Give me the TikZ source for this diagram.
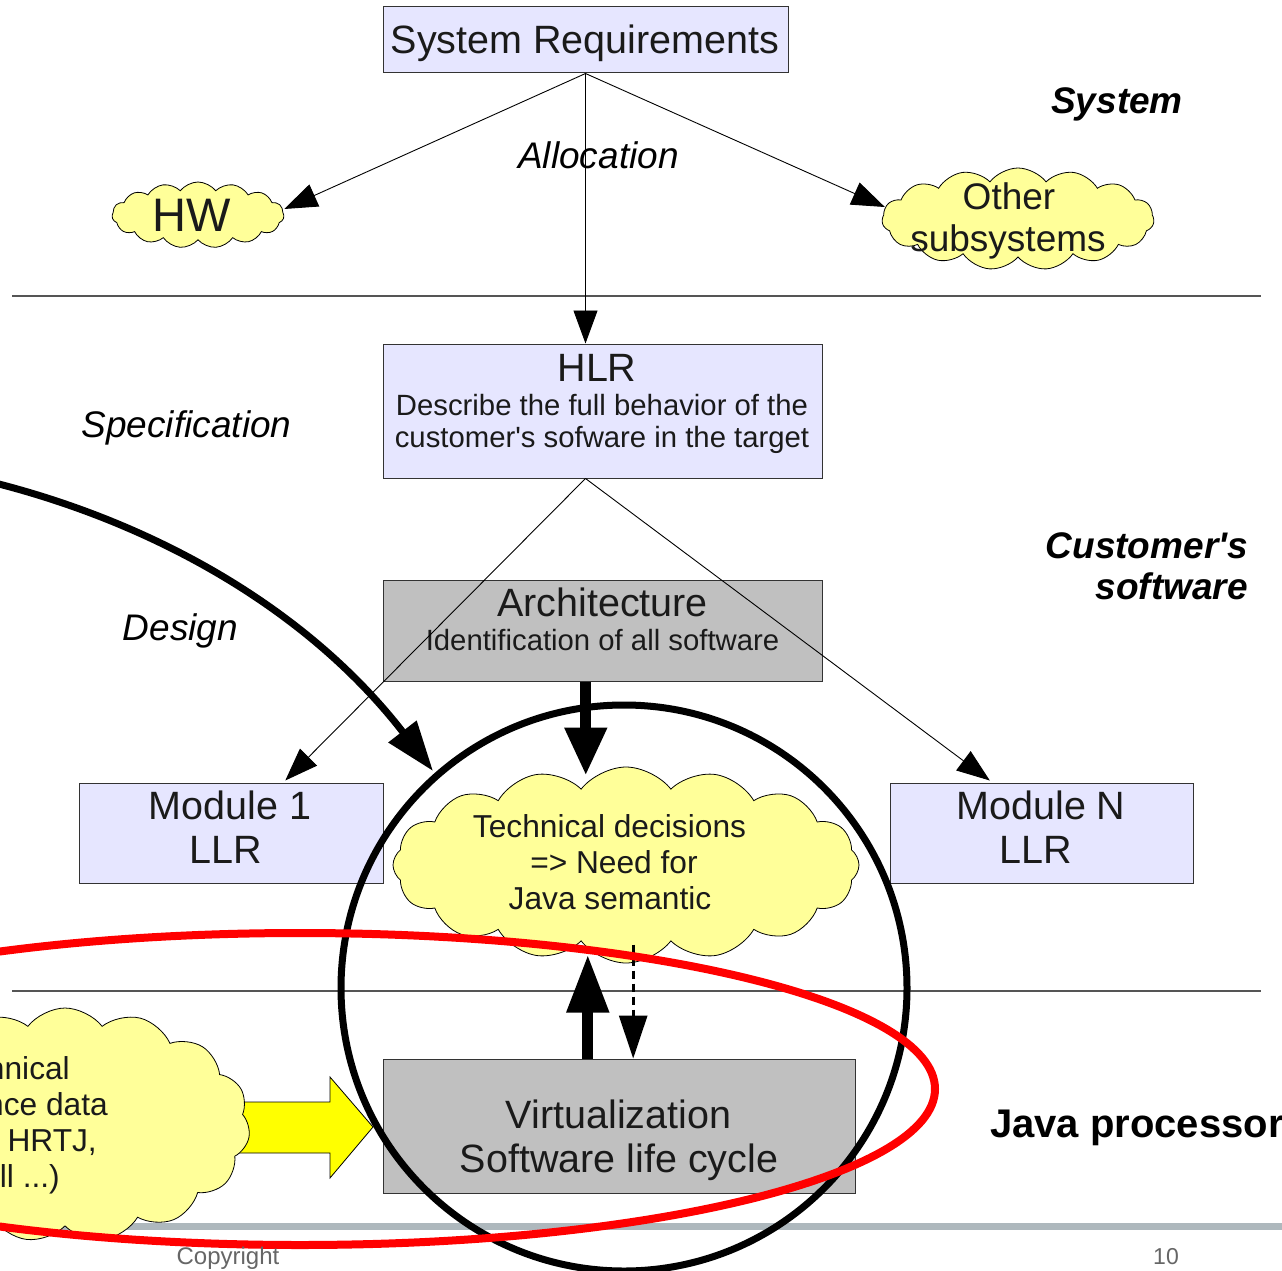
\documentclass[tikz,border=0pt]{standalone}
\usepackage{fontspec}
\setmainfont{Liberation Sans}
\usetikzlibrary{arrows.meta,shapes.symbols,calc}

\definecolor{lav}{HTML}{E6E6FF}
\definecolor{boxgray}{HTML}{C0C0C0}
\definecolor{cloudy}{HTML}{FFFF99}
\definecolor{arrowyellow}{HTML}{FFFF00}
\definecolor{ink}{HTML}{1A1A1A}
\definecolor{rule}{HTML}{555555}
\definecolor{footbar}{HTML}{AEB8BD}
\definecolor{foottext}{HTML}{666666}

\newcommand\fsz[1]{\fontsize{#1}{#1}\selectfont}

\begin{document}
\begin{tikzpicture}[x=1pt,y=-1pt,
  box/.style={draw=black!80, line width=1pt, inner sep=0pt},
  lavbox/.style={box, fill=lav},
  graybox/.style={box, fill=boxgray},
  puff/.style={cloud, draw=black, fill=cloudy, line width=0.8pt,
    cloud ignores aspect, cloud puff arc=105, inner sep=0pt},
  txt/.style={inner sep=0pt, text=ink, anchor=base},
  bigtxt/.style={txt, font=\fsz{39.5}},
  midtxt/.style={txt, font=\fsz{29.3}},
  cloudtxt/.style={txt, font=\fsz{31.7}},
  lbl/.style={txt, text=black, font=\fsz{37}\itshape},
  level/.style={txt, text=black, font=\fsz{37}\bfseries\itshape},
  thin/.style={draw=black, line width=0.9pt,
    -{Triangle[length=33pt,width=24pt]}},
  flow/.style={draw=black, line width=11pt,
    -{Triangle[length=48pt,width=40pt]}},
  sep/.style={draw=rule, line width=1.2pt}
]
\useasboundingbox (0,0) rectangle (1282,1271);
\clip (0,0) rectangle (1282,1271);
\fill[white] (0,0) rectangle (1282,1271);

% level separators and footer bar
\path[sep] (12,296) -- (1261,296);
\path[sep] (12,991) -- (1261,991);
\fill[footbar] (0,1223) rectangle (1282,1230);

% requirement boxes
\node[lavbox, minimum width=405pt, minimum height=66pt] (sysreq) at (585.5,40) {};
\node[lavbox, minimum width=439pt, minimum height=134pt] (hlr) at (602.5,411) {};
\node[graybox, minimum width=439pt, minimum height=101pt] (arch) at (602.5,630.5) {};
\node[lavbox, minimum width=304pt, minimum height=100pt] (mod1) at (231,833) {};
\node[lavbox, minimum width=303pt, minimum height=100pt] (modn) at (1041.5,833) {};
\node[graybox, minimum width=472pt, minimum height=134pt] (virt) at (619,1126) {};

\node[bigtxt] (sysreqT) at (585,54) {System Requirements};
\node[bigtxt] (hlrT) at (597,381) {HLR};
\node[midtxt] (hlrA) at (602,415.5) {Describe the full behavior of the};
\node[midtxt] (hlrB) at (602,447) {customer\textquotesingle s sofware in the target};
\node[bigtxt] (archT) at (602.5,616) {Architecture};
\node[midtxt] (archA) at (602.5,650.5) {Identification of all software};
\node[bigtxt] (mod1A) at (230,819) {Module 1};
\node[bigtxt] (mod1B) at (225.5,863) {LLR};
\node[bigtxt] (modnA) at (1041,819) {Module N};
\node[bigtxt] (modnB) at (1035.5,863) {LLR};

% clouds
\node[puff, cloud puffs=15, minimum width=172pt, minimum height=66pt] (hw) at (198,215) {};
\node[txt, font=\fsz{47}] (hwT) at (192,231) {HW};
\node[puff, cloud puffs=15, minimum width=272pt, minimum height=102pt] (other) at (1018,219) {};
\node[txt, font=\fsz{37}] (otherA) at (1009,209) {Other};
\node[txt, font=\fsz{37}] (otherB) at (1008,251) {subsystems};

% allocation connectors
\coordinate (allocTop) at (sysreq.south);
\coordinate (hwTip) at ($(hw.east)+(0,-6)$);
\coordinate (otherTip) at ($(other.west)+(3,-12)$);
\coordinate (hlrIn) at (allocTop |- hlr.north);
\draw[thin] (allocTop) -- (hwTip);
\draw[thin] (allocTop) -- (otherTip);
\draw[thin] (allocTop) -- (hlrIn);

% design connectors
\coordinate (hlrOut) at (allocTop |- hlr.south);
\coordinate (m1Tip) at ($(mod1.north west)!0.678!(mod1.north east)+(0,-2)$);
\coordinate (mnTip) at ($(modn.north west)!0.33!(modn.north east)+(0,-2)$);
\draw[thin] (hlrOut) -- (m1Tip);
\draw[thin] (hlrOut) -- (mnTip);

% labels
\node[lbl] (allocL) at (598.5,168) {Allocation};
\node[lbl] (specL) at (186.5,437) {Specification};
\node[lbl] (designL) at (180.5,640) {Design};
\node[level] (sysL) at (1117,114) {System};
\node[level, anchor=base east] (custA) at (1248,558) {Customer\textquotesingle s};
\node[level, anchor=base east] (custB) at (1248,599) {software};
\node[txt, text=black, font=\fsz{40}\bfseries, anchor=base west] (javaL) at (990,1137) {Java processor};

% technical decisions cloud
\node[puff, cloud puffs=16, minimum width=466pt, minimum height=196pt] (tech) at (626,865) {};
\node[cloudtxt] (techA) at (609.5,837) {Technical decisions};
\node[cloudtxt] (techB) at (614,873) {=> Need for};
\node[cloudtxt] (techC) at (610,909) {Java semantic};

% yellow block arrow and left cloud
\fill[arrowyellow, draw=black, line width=0.8pt]
  (200,1102) -- (330,1102) -- (330,1077) -- (373,1127) -- (330,1178)
  -- (330,1153) -- (200,1153) -- cycle;
\node[puff, cloud puffs=15, minimum width=370pt, minimum height=234pt] (left) at (65,1125) {};
\node[cloudtxt, anchor=base east] (leftA) at (70,1079) {nnical};
\node[cloudtxt, anchor=base east] (leftB) at (108,1115) {nce data};
\node[cloudtxt, anchor=base east] (leftC) at (97,1151) {HRTJ,};
\node[cloudtxt, anchor=base east] (leftD) at (60,1187) {ll ...)};

\node[bigtxt] (virtA) at (618.5,1128) {Virtualization};
\node[bigtxt] (virtB) at (619,1172) {Software life cycle};

% flows between architecture, decisions and virtualization
\coordinate (archOut) at ($(arch.south west)!0.462!(arch.south east)$);
\coordinate (techIn) at ($(archOut)+(0,94)$);
\draw[flow] (archOut) -- (techIn);
\coordinate (virtUp) at ($(virt.north west)!0.434!(virt.north east)$);
\coordinate (techOut) at ($(virtUp)+(0,-104)$);
\draw[flow, -{Triangle[length=58pt,width=40pt]}] (virtUp) -- (techOut);
\coordinate (virtIn) at ($(virt.north west)!0.53!(virt.north east)$);
\coordinate (techDown) at ($(virtIn)+(0,-114)$);
\draw[line width=3pt, dash pattern=on 8pt off 5pt,
  -{Triangle[length=43pt,width=28pt]}] (techDown) -- (virtIn);

% highlight circle and ellipse
\coordinate (focus) at (624,988);
\draw[line width=7pt] (focus) circle[radius=283pt];
\coordinate (scopeC) at (300,1089);
\draw[red, line width=8pt] (scopeC) ellipse[x radius=635pt, y radius=156pt];

% incoming curved arrow
\coordinate (curveStart) at (-5,483);
\coordinate (curveTip) at (433,771);
\draw[line width=7pt, -{Triangle[length=50pt,width=34pt]}]
  (curveStart) .. controls (160,525) and (310,612) .. (curveTip);

% footer
\node[txt, text=foottext, font=\fsz{24}] (copyT) at (228,1264) {Copyright};
\node[txt, text=foottext, font=\fsz{23}] (pageT) at (1166,1264) {10};
\end{tikzpicture}
\end{document}
